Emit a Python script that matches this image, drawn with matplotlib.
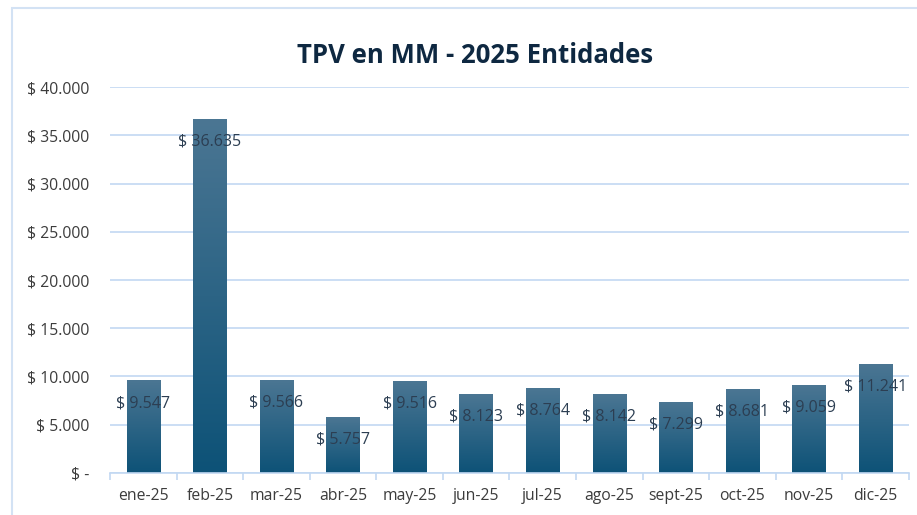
import matplotlib
matplotlib.use("Agg")
import matplotlib.pyplot as plt
import matplotlib.ticker as ticker
import numpy as np
from matplotlib.colors import LinearSegmentedColormap
from matplotlib.patches import Rectangle

months = ["ene-25", "feb-25", "mar-25", "abr-25", "may-25", "jun-25",
          "jul-25", "ago-25", "sept-25", "oct-25", "nov-25", "dic-25"]
tpv = [9547, 36635, 9566, 5757, 9516, 8123, 8764, 8142, 7299, 8681, 9059, 11241]
y_ticks = [0, 5000, 10000, 15000, 20000, 25000, 30000, 35000, 40000]


def money(v):
    if v == 0:
        return "$ -"
    return "$ " + f"{v:,.0f}".replace(",", ".")


plt.rcParams['font.family'] = ['Open Sans', 'DejaVu Sans']

fig = plt.figure(figsize=(9.17, 5.15), dpi=100)
ax = fig.add_axes([0.12, 0.0816, 0.871, 0.7494])

# outer chart frame
fig.patches.append(Rectangle((12 / 917, -0.05), 1.2, 1 - 8 / 515 + 0.05,
                             transform=fig.transFigure, fill=False,
                             edgecolor="#D3E2F4", lw=1.5))

grid_c = "#C2D8F2"
grad = LinearSegmentedColormap.from_list("bar", ["#0D5277", "#4B7693"])
x = np.arange(len(months))
width = 0.5
for xi, v in zip(x, tpv):
    g = np.linspace(0, 1, 256).reshape(-1, 1)
    ax.imshow(g, cmap=grad, origin="lower", aspect="auto",
              extent=(xi - width / 2, xi + width / 2, 0, v), zorder=2)
    ax.annotate(money(v), (xi, v), xytext=(0, -16), textcoords="offset points",
                ha="center", va="center", fontsize=11.5, color="#2C3E52", zorder=3)

ax.set_xlim(-0.5, len(months) - 0.5)
ax.set_ylim(0, 40000)
ax.set_yticks(y_ticks)
ax.set_yticklabels([money(t) for t in y_ticks])
ax.yaxis.grid(True, color=grid_c, lw=1.2)
ax.set_axisbelow(True)

ax.xaxis.set_major_locator(ticker.FixedLocator(np.arange(-0.5, len(months), 1)))
ax.xaxis.set_major_formatter(ticker.NullFormatter())
ax.xaxis.set_minor_locator(ticker.FixedLocator(x))
ax.xaxis.set_minor_formatter(ticker.FixedFormatter(months))
ax.tick_params(axis="x", which="major", length=5, color=grid_c, width=1.2)
ax.tick_params(axis="x", which="minor", length=0, pad=11, labelsize=11.3, labelcolor="#3C3C3C")
ax.tick_params(axis="y", length=0, pad=15, labelsize=11.3, labelcolor="#3C3C3C")

for s in ["top", "right", "left"]:
    ax.spines[s].set_visible(False)
ax.spines["bottom"].set_color(grid_c)
ax.spines["bottom"].set_linewidth(1.2)

fig.text(0.518, 0.893, "TPV en MM - 2025 Entidades", ha="center", va="center",
         fontsize=18.5, fontweight="bold", color="#0E2841")

fig.savefig("out.png", dpi=100)
